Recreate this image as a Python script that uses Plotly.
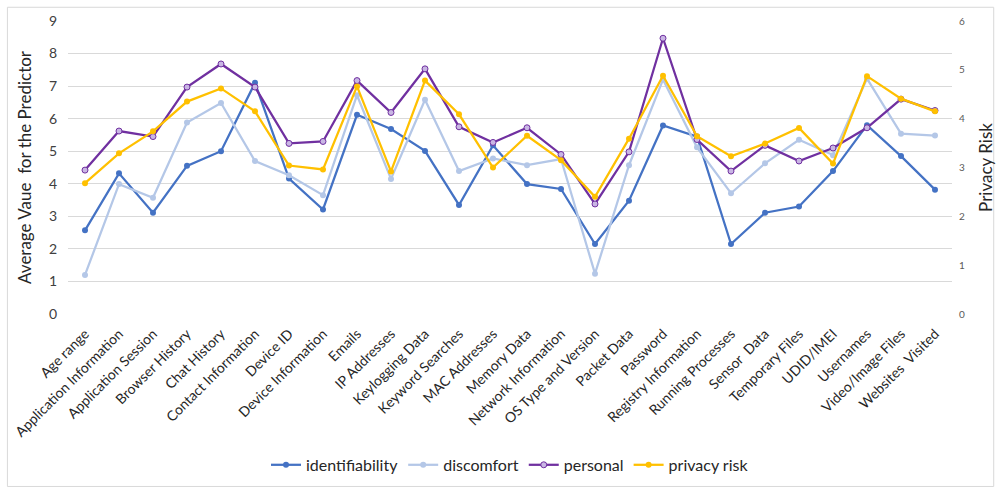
import plotly.graph_objects as go

categories = [
    "Age range", "Application Information", "Application Session", "Browser History",
    "Chat History", "Contact Information", "Device ID", "Device Information", "Emails",
    "IP Addresses", "Keylogging Data", "Keyword Searches", "MAC Addresses", "Memory Data",
    "Network Information", "OS Type and Version", "Packet Data", "Password",
    "Registry Information", "Running Processes", "Sensor  Data", "Temporary Files",
    "UDID/IMEI", "Usernames", "Video/Image Files", "Websites  Visited",
]

identifiability = [2.57, 4.32, 3.11, 4.55, 5.00, 7.10, 4.16, 3.21, 6.12, 5.68, 5.01, 3.35, 5.18,
                   3.99, 3.84, 2.15, 3.48, 5.79, 5.45, 2.15, 3.11, 3.30, 4.39, 5.80, 4.85, 3.82]
discomfort = [1.20, 3.99, 3.57, 5.88, 6.48, 4.70, 4.26, 3.65, 6.72, 4.15, 6.58, 4.39, 4.78,
              4.57, 4.76, 1.24, 4.57, 7.20, 5.12, 3.71, 4.63, 5.35, 4.88, 7.23, 5.54, 5.48]
personal = [4.42, 5.62, 5.45, 6.97, 7.68, 6.97, 5.24, 5.30, 7.17, 6.19, 7.53, 5.75, 5.27,
            5.72, 4.90, 3.38, 4.98, 8.47, 5.36, 4.39, 5.18, 4.70, 5.10, 5.72, 6.60, 6.25]
privacy_risk = [2.68, 3.29, 3.74, 4.35, 4.62, 4.15, 3.04, 2.96, 4.66, 2.92, 4.78, 4.09, 3.00,
                3.65, 3.15, 2.40, 3.59, 4.88, 3.64, 3.23, 3.49, 3.81, 3.08, 4.87, 4.41, 4.15]

left_ticks = list(range(0, 10))
right_ticks = list(range(0, 7))

C_IDENT = "#4472C4"
C_DISC = "#B4C7E7"
C_PERS = "#7030A0"
C_RISK = "#FFC000"
FONT = "Lato, 'Open Sans', sans-serif"

fig = go.Figure()

fig.add_trace(go.Scatter(
    x=categories, y=identifiability, name="identifiability", mode="lines+markers",
    line=dict(color=C_IDENT, width=2.25), marker=dict(color=C_IDENT, size=6),
))
fig.add_trace(go.Scatter(
    x=categories, y=discomfort, name="discomfort", mode="lines+markers",
    line=dict(color=C_DISC, width=2.25), marker=dict(color=C_DISC, size=6),
))
fig.add_trace(go.Scatter(
    x=categories, y=personal, name="personal", mode="lines+markers",
    line=dict(color=C_PERS, width=2.25),
    marker=dict(color="#C9B6E4", size=6, line=dict(color=C_PERS, width=1)),
))
fig.add_trace(go.Scatter(
    x=categories, y=privacy_risk, name="privacy risk", mode="lines+markers", yaxis="y2",
    line=dict(color=C_RISK, width=2.25), marker=dict(color=C_RISK, size=6),
))

fig.update_layout(
    width=1005, height=494,
    margin=dict(l=68, r=47, t=17, b=178),
    paper_bgcolor="white", plot_bgcolor="white",
    font=dict(family=FONT, color="#404040"),
    showlegend=True,
    legend=dict(orientation="h", x=0.5, xanchor="center", y=-0.515, yanchor="middle",
                font=dict(size=16, color="#262626"), itemwidth=30, tracegroupgap=0),
    xaxis=dict(
        type="category", tickangle=-45, showgrid=False, showline=False, zeroline=False,
        ticks="", ticklabelstandoff=8, tickfont=dict(size=14, color="#262626", family=FONT),
        range=[-0.5, len(categories) - 0.5],
    ),
    yaxis=dict(
        range=[0, 9], tickvals=left_ticks, showgrid=True, gridcolor="#D9D9D9", gridwidth=1,
        zeroline=False, showline=False, ticks="", ticklabelstandoff=10,
        tickfont=dict(size=14, color="#404040"),
        title=dict(text="Average Vaue  for the Predictor", font=dict(size=17, color="#262626"),
                   standoff=12),
    ),
    yaxis2=dict(
        range=[0, 6], tickvals=right_ticks, overlaying="y", side="right", showgrid=False,
        zeroline=False, showline=False, ticks="", ticklabelstandoff=6,
        tickfont=dict(size=10, color="#595959"),
        title=dict(text="Privacy Risk", font=dict(size=17, color="#262626"), standoff=16),
    ),
    shapes=[dict(type="rect", xref="paper", yref="paper",
                 x0=-61 / 890, x1=(1000 - 68) / 890, y0=-(492 - 316) / 299, y1=(316 - 3) / 299,
                 line=dict(color="#D9D9D9", width=1), fillcolor="rgba(0,0,0,0)", layer="below")],
)

fig.write_html("out.html")
